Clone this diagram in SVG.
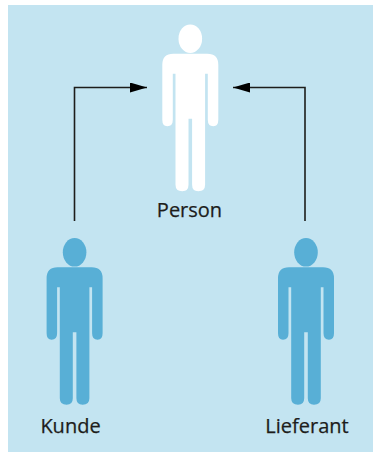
<svg xmlns="http://www.w3.org/2000/svg" width="373" height="453" viewBox="0 0 373 453">
<style>
.bg{fill:#c3e4f1}
.lbl{font-family:"Open Sans","Noto Sans",sans-serif;font-size:20px;fill:#1d1d1b;text-anchor:middle;stroke:#1d1d1b;stroke-width:.25}
.conn{fill:none;stroke:#1d1d1b;stroke-width:1.6}
.white{fill:#fff}
.blue{fill:#58afd6}
</style>
<defs>
<marker id="arrow" markerUnits="userSpaceOnUse" markerWidth="18" markerHeight="10" refX="17" refY="5" orient="auto">
<path d="M0 0L17 5L0 10Z" fill="#000"/>
</marker>
<symbol id="man" overflow="visible">
<ellipse cx="0" cy="-15" rx="11.8" ry="14.300"/>
<path d="M-17 0H17Q28 0 28 11V66Q28 72.500 23 72.500Q17.500 72.500 17.500 66V20H14.800V131Q14.800 137.500 8 137.500Q1.800 137.500 1.800 131V65H-1.800V131Q-1.800 137.500 -8 137.500Q-14.800 137.500 -14.800 131V20H-17.500V66Q-17.500 72.500 -23 72.500Q-28 72.500 -28 66V11Q-28 0 -17 0Z"/>
</symbol>
</defs>
<rect class="bg" x="8" y="5" width="365" height="447"/>
<g id="connectors">
<path class="conn" d="M74.500 221V87.500H147" marker-end="url(#arrow)"/>
<path class="conn" d="M305 221V87.500H233" marker-end="url(#arrow)"/>
</g>
<g id="person">
<use href="#man" class="white" x="190.300" y="53.700"/>
<text class="lbl" x="189.500" y="217">Person</text>
</g>
<g id="kunde">
<use href="#man" class="blue" x="74.600" y="267.300"/>
<text class="lbl" x="70.500" y="433">Kunde</text>
</g>
<g id="lieferant">
<use href="#man" class="blue" x="306" y="267.300"/>
<text class="lbl" x="307" y="433">Lieferant</text>
</g>
</svg>
